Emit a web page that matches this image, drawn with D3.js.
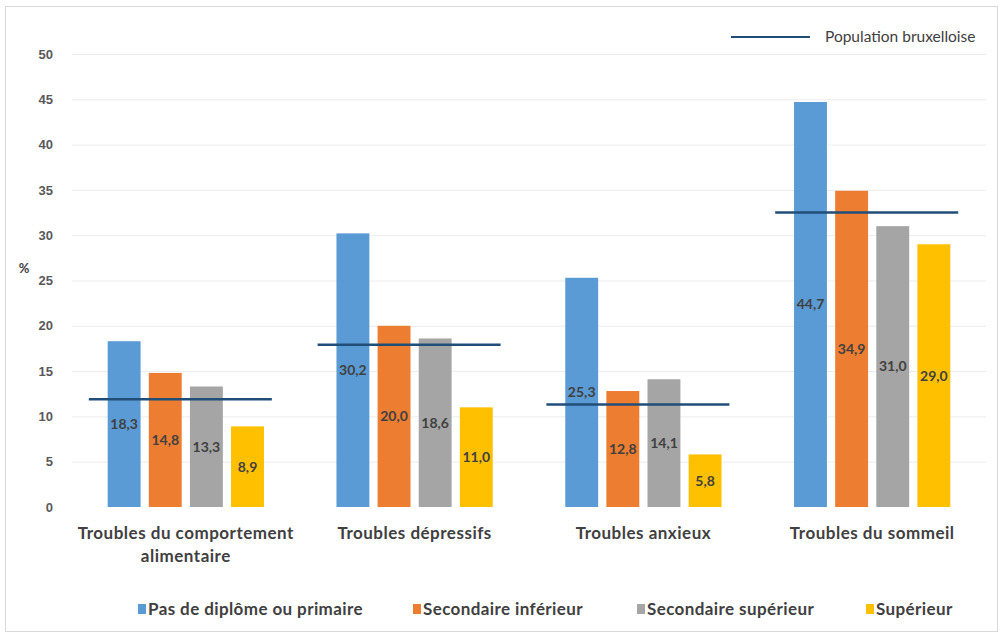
<!DOCTYPE html>
<html>
<head>
<meta charset="utf-8">
<script src="https://cdn.jsdelivr.net/npm/d3@7"></script>
<style>
  body { margin: 0; background: #fff; }
  svg { font-family: Lato, "Open Sans", sans-serif; }
</style>
</head>
<body>
<div id="chart"></div>
<script>
const categories = [
  ['Troubles du comportement', 'alimentaire'],
  ['Troubles dépressifs'],
  ['Troubles anxieux'],
  ['Troubles du sommeil']
];
const seriesNames = ['Pas de diplôme ou primaire', 'Secondaire inférieur', 'Secondaire supérieur', 'Supérieur'];
const seriesColors = ['#5b9bd5', '#ed7d31', '#a5a5a5', '#ffc000'];
const pasDiplome = [18.3, 30.2, 25.3, 44.7];
const secInferieur = [14.8, 20.0, 12.8, 34.9];
const secSuperieur = [13.3, 18.6, 14.1, 31.0];
const superieur = [8.9, 11.0, 5.8, 29.0];
const population = [11.9, 17.9, 11.3, 32.5];
const yTicks = [0, 5, 10, 15, 20, 25, 30, 35, 40, 45, 50];

const values = [pasDiplome, secInferieur, secSuperieur, superieur];

const width = 1002, height = 635;
const margin = { top: 54, right: 16, bottom: 128, left: 72 };

const svg = d3.select('#chart').append('svg')
  .attr('width', width)
  .attr('height', height);

// frame
svg.append('rect')
  .attr('x', 5.5).attr('y', 6.5)
  .attr('width', 992).attr('height', 625)
  .attr('fill', '#fff')
  .attr('stroke', '#d9d9d9');

const x0 = d3.scaleBand()
  .domain(d3.range(categories.length))
  .range([margin.left, width - margin.right])
  .paddingInner(0.245)
  .paddingOuter(0.12);

const x1 = d3.scaleBand()
  .domain(d3.range(seriesNames.length))
  .range([0, x0.bandwidth()])
  .padding(0.2);

const y = d3.scaleLinear()
  .domain([0, 50])
  .range([height - margin.bottom, margin.top]);

// gridlines
svg.append('g')
  .selectAll('line')
  .data(yTicks.slice(1))
  .join('line')
  .attr('x1', margin.left).attr('x2', width - margin.right)
  .attr('y1', d => y(d) + 0.5).attr('y2', d => y(d) + 0.5)
  .attr('stroke', '#ececec');

// y axis
const yAxis = svg.append('g')
  .attr('transform', `translate(${margin.left},0)`)
  .call(d3.axisLeft(y).tickValues(yTicks).tickSize(0).tickPadding(19));
yAxis.select('.domain').remove();
yAxis.selectAll('text')
  .attr('fill', '#595959')
  .style('font-size', '13px')
  .style('font-weight', 'bold');

svg.append('text')
  .attr('x', 24).attr('y', y(25.8))
  .attr('text-anchor', 'middle')
  .attr('fill', '#404040')
  .style('font-size', '13px')
  .style('font-weight', 'bold')
  .text('%');

// bars
const groups = svg.append('g')
  .selectAll('g')
  .data(categories.map((c, i) => i))
  .join('g')
  .attr('transform', i => `translate(${x0(i)},0)`);

groups.selectAll('rect')
  .data(i => values.map((s, k) => ({ k, v: s[i] })))
  .join('rect')
  .attr('x', d => x1(d.k))
  .attr('width', x1.bandwidth())
  .attr('y', d => y(d.v))
  .attr('height', d => y(0) - y(d.v))
  .attr('fill', d => seriesColors[d.k]);

groups.selectAll('text.val')
  .data(i => values.map((s, k) => ({ k, v: s[i] })))
  .join('text')
  .attr('class', 'val')
  .attr('x', d => x1(d.k) + x1.bandwidth() / 2)
  .attr('y', d => (y(d.v) + y(0)) / 2)
  .attr('dy', '0.35em')
  .attr('text-anchor', 'middle')
  .attr('fill', '#404040')
  .style('font-size', '14px')
  .style('font-weight', 'bold')
  .text(d => d.v.toFixed(1).replace('.', ','));

// population lines
svg.append('g')
  .selectAll('line')
  .data(population)
  .join('line')
  .attr('x1', (d, i) => x0(i) + x0.bandwidth() / 2 - 97)
  .attr('x2', (d, i) => x0(i) + x0.bandwidth() / 2 + 86)
  .attr('y1', d => y(d)).attr('y2', d => y(d))
  .attr('stroke', '#1f4e79')
  .attr('stroke-width', 2.5);

// category labels
const catLabels = svg.append('g')
  .selectAll('text')
  .data(categories)
  .join('text')
  .attr('x', (d, i) => x0(i) + x0.bandwidth() / 2)
  .attr('y', y(0) + 32)
  .attr('text-anchor', 'middle')
  .attr('fill', '#404040')
  .style('font-size', '17px')
  .style('letter-spacing', '0.5px')
  .style('font-weight', 'bold');
catLabels.selectAll('tspan')
  .data(d => d)
  .join('tspan')
  .attr('x', function () { return this.parentNode.getAttribute('x'); })
  .attr('dy', (d, i) => i === 0 ? 0 : 23)
  .text(d => d);

// bottom legend
const legendX = [138, 413, 637, 866];
const legend = svg.append('g')
  .selectAll('g')
  .data(seriesNames)
  .join('g')
  .attr('transform', (d, i) => `translate(${legendX[i]},609)`);
legend.append('rect')
  .attr('x', 0).attr('y', -5)
  .attr('width', 8).attr('height', 10)
  .attr('fill', (d, i) => seriesColors[i]);
legend.append('text')
  .attr('x', 10).attr('dy', '0.35em')
  .attr('fill', '#404040')
  .style('font-size', '17px')
  .style('letter-spacing', '0.4px')
  .style('font-weight', 'bold')
  .text(d => d);

// top legend
svg.append('line')
  .attr('x1', 731).attr('x2', 810)
  .attr('y1', 37).attr('y2', 37)
  .attr('stroke', '#1f4e79')
  .attr('stroke-width', 2);
svg.append('text')
  .attr('x', 825).attr('y', 37)
  .attr('dy', '0.35em')
  .attr('fill', '#404040')
  .style('font-size', '15.5px')
  .text('Population bruxelloise');
</script>
</body>
</html>
